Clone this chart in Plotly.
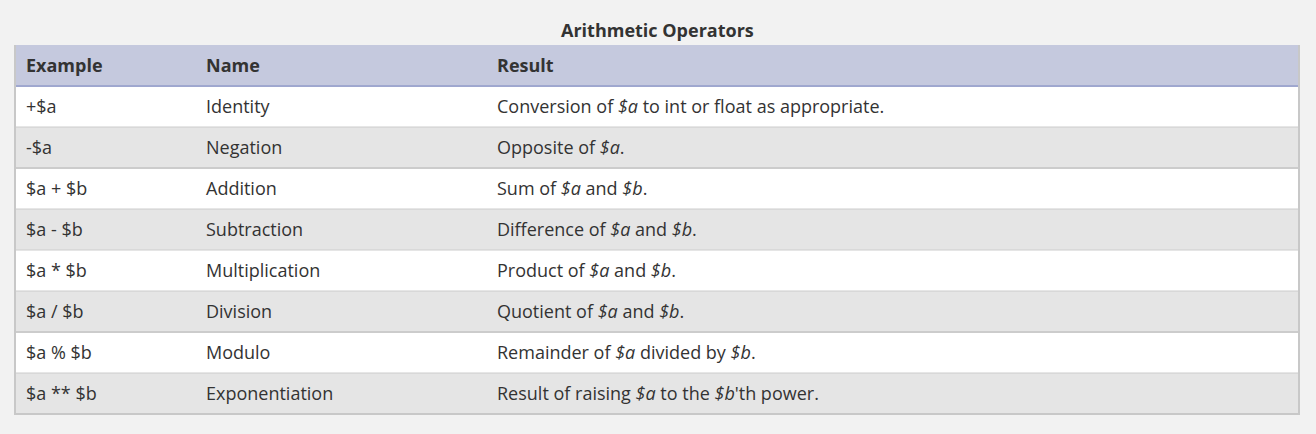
import plotly.graph_objects as go

W, H = 1316, 434
TOP = 45        # px where table header starts
ROW_H = 41      # px per row
X0, X1 = 15, 1299

title = "Arithmetic Operators"
headers = ["Example", "Name", "Result"]
examples = ["+$a", "-$a", "$a + $b", "$a - $b", "$a * $b", "$a / $b", "$a % $b", "$a ** $b"]
names = ["Identity", "Negation", "Addition", "Subtraction", "Multiplication",
         "Division", "Modulo", "Exponentiation"]
results = [
    "Conversion of <i>$a</i> to int or float as appropriate.",
    "Opposite of <i>$a</i>.",
    "Sum of <i>$a</i> and <i>$b</i>.",
    "Difference of <i>$a</i> and <i>$b</i>.",
    "Product of <i>$a</i> and <i>$b</i>.",
    "Quotient of <i>$a</i> and <i>$b</i>.",
    "Remainder of <i>$a</i> divided by <i>$b</i>.",
    "Result of raising <i>$a</i> to the <i>$b</i>'th power.",
]
col_widths = [183, 291, 810]
sep_widths = [1, 2, 1, 1, 1, 2, 1]

FONT = "Open Sans"
HEAD_BG = "#c5c9de"
TXT = "#333333"
row_bg = ["#ffffff" if i % 2 == 0 else "#e5e5e5" for i in range(len(examples))]


def cell(s, first=False):
    # wrap in a span so every cell goes through the same text layout path
    return "<span>%s%s</span>" % ("\u2009" if first else "", s)


fig = go.Figure(go.Table(
    domain=dict(x=[X0 / W, X1 / W], y=[0, 1 - TOP / H]),
    columnwidth=col_widths,
    header=dict(
        values=["<b>%s%s</b>" % ("\u2009" if i == 0 else "", h) for i, h in enumerate(headers)],
        fill_color=HEAD_BG,
        line=dict(color=HEAD_BG, width=1),
        align="left",
        height=ROW_H,
        font=dict(family=FONT, size=18, color=TXT),
    ),
    cells=dict(
        values=[[cell(s, True) for s in examples], [cell(s) for s in names], [cell(s) for s in results]],
        fill_color=[row_bg] * 3,
        line=dict(color=[row_bg] * 3, width=1),
        align="left",
        height=ROW_H,
        font=dict(family=FONT, size=18, color=TXT),
    ),
))

# horizontal separators between rows
shapes = []
n = len(examples)
for i in range(1, n):
    y = 1 - (TOP + ROW_H * (i + 1)) / H
    shapes.append(dict(type="line", xref="paper", yref="paper", x0=X0 / W, x1=X1 / W,
                       y0=y, y1=y, line=dict(color="#cccccc", width=sep_widths[i - 1])))
yh = 1 - (TOP + ROW_H) / H
shapes.append(dict(type="line", xref="paper", yref="paper", x0=X0 / W, x1=X1 / W,
                   y0=yh, y1=yh, line=dict(color="#7a86c0", width=1)))
yb = 1 - (TOP + ROW_H * (n + 1)) / H
shapes.append(dict(type="path", xref="paper", yref="paper",
                   path="M %f %f L %f %f L %f %f L %f %f" % (X0 / W, 1 - TOP / H, X0 / W, yb,
                                                             X1 / W, yb, X1 / W, 1 - TOP / H),
                   line=dict(color="#c8c8c8", width=2)))

fig.update_layout(
    width=W, height=H,
    margin=dict(l=0, r=0, t=0, b=0),
    paper_bgcolor="#f2f2f2",
    shapes=shapes,
    annotations=[dict(text="<b>%s</b>" % title, x=(X0 + X1) / 2 / W, y=1 - 30 / H,
                      xref="paper", yref="paper", showarrow=False, yanchor="middle",
                      font=dict(family=FONT, size=18, color=TXT))],
)

fig.write_html("out.html", config={"displayModeBar": False},
               post_script="document.body.style.margin='0';document.body.style.background='#f2f2f2';")
